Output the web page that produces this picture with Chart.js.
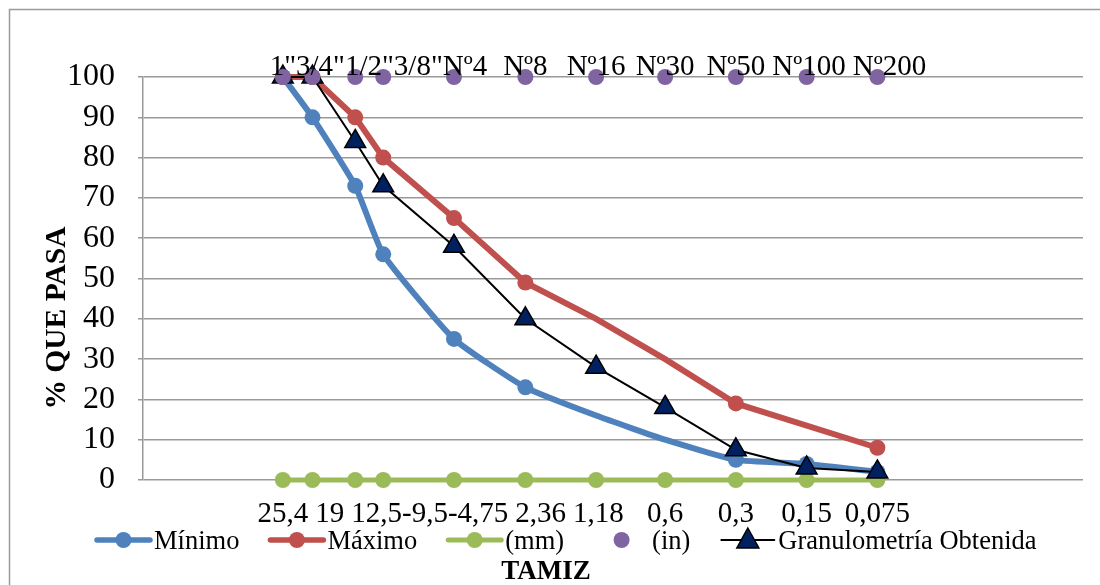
<!DOCTYPE html>
<html>
<head>
<meta charset="utf-8">
<script src="https://cdn.jsdelivr.net/npm/chart.js@4.4.0/dist/chart.umd.min.js"></script>
<style>
html,body{margin:0;padding:0;background:#fff;}
#wrap{position:relative;width:1100px;height:585px;}
</style>
</head>
<body>
<div id="wrap"><canvas id="c" width="1100" height="585"></canvas></div>
<script>
// ---- data ----
const sieveMM   = [25.4, 19, 12.5, 9.5, 4.75, 2.36, 1.18, 0.6, 0.3, 0.15, 0.075];
const mmLabels  = ["25,4", "19", "12,5-", "9,5-", "4,75", "2,36", "1,18", "0,6", "0,3", "0,15", "0,075"];
const inLabels  = ['1"', '3/4"', '1/2"', '3/8"', "Nº4", "Nº8", "Nº16", "Nº30", "Nº50", "Nº100", "Nº200"];
const minimo    = [100, 90, 73, 56, 35, 23, 16, 10, 5, 4, 2];
const maximo    = [100, 100, 90, 80, 65, 49, 40, 30, 19, null, 8];
const granulo   = [100, 100, 84, 73, 58, 40, 28, 18, 7.5, 3, 2];
const mmRow     = [0, 0, 0, 0, 0, 0, 0, 0, 0, 0, 0];
const inRow     = [100, 100, 100, 100, 100, 100, 100, 100, 100, 100, 100];
const minMarker = [1, 1, 1, 1, 1, 1, 0, 0, 1, 1, 1];
const maxMarker = [1, 1, 1, 1, 1, 1, 0, 0, 1, 1, 1];
const yTicks    = [0, 10, 20, 30, 40, 50, 60, 70, 80, 90, 100];
const seriesNames = ["Mínimo", "Máximo", "(mm)", "(in)", "Granulometría Obtenida"];

const C_BLUE = '#4F81BD', C_RED = '#C0504D', C_GREEN = '#9BBB59', C_PURPLE = '#8064A2', C_NAVY = '#002060';
const SERIF = '"Liberation Serif", "Times New Roman", serif';

const pts = arr => sieveMM.map((x, i) => ({x: x, y: arr[i]}));

// labels plugin, legend, titles, border
const decor = {
  id: 'decor',
  afterDatasetsDraw(chart) {
    const ctx = chart.ctx;
    const drawRow = (dsIndex, labels, baseline, gapFn) => {
      const meta = chart.getDatasetMeta(dsIndex);
      ctx.save();
      ctx.font = '29px ' + SERIF;
      ctx.fillStyle = '#000';
      ctx.textAlign = 'left';
      ctx.textBaseline = 'alphabetic';
      let prevRight = -Infinity, prevLabel = null;
      meta.data.forEach((p, i) => {
        const t = labels[i];
        const w = ctx.measureText(t).width;
        let left = p.x - w / 2;
        const gap = prevLabel === null ? 0 : gapFn(prevLabel, t);
        if (left < prevRight + gap) left = prevRight + gap;
        ctx.fillText(t, left, baseline);
        prevRight = left + w; prevLabel = t;
      });
      ctx.restore();
    };
    const yScale = chart.scales.y;
    drawRow(3, inLabels, yScale.getPixelForValue(100) - 2, (a, b) => (a.startsWith('Nº') && b.startsWith('Nº') && a !== 'Nº4') ? 7 : 0);
    drawRow(2, mmLabels, yScale.getPixelForValue(0) + 42, prev => prev.endsWith('-') ? 0 : 7);
  },
  afterDraw(chart) {
    const ctx = chart.ctx;
    ctx.save();
    // chart border (top and left visible)
    ctx.strokeStyle = '#9a9a9a';
    ctx.lineWidth = 1.5;
    ctx.beginPath();
    ctx.moveTo(9.5, 590); ctx.lineTo(9.5, 9.5); ctx.lineTo(1110, 9.5);
    ctx.stroke();

    // axis titles
    ctx.fillStyle = '#000';
    ctx.textAlign = 'center';
    ctx.textBaseline = 'middle';
    ctx.font = 'bold 27px ' + SERIF;
    ctx.fillText('TAMIZ', 546, 572);
    ctx.save();
    ctx.translate(57, 318);
    ctx.rotate(-Math.PI / 2);
    ctx.font = 'bold 29.5px ' + SERIF;
    ctx.fillText('% QUE PASA', 0, 0);
    ctx.restore();

    // legend
    const items = [
      {label: seriesNames[0], color: C_BLUE, line: 5.5, marker: 'circle'},
      {label: seriesNames[1], color: C_RED, line: 5.5, marker: 'circle'},
      {label: seriesNames[2], color: C_GREEN, line: 5, marker: 'circle'},
      {label: seriesNames[3], color: C_PURPLE, line: 0, marker: 'circle'},
      {label: seriesNames[4], color: '#000', line: 2, marker: 'triangle'}
    ];
    ctx.font = '26.5px ' + SERIF;
    ctx.textAlign = 'left';
    ctx.textBaseline = 'alphabetic';
    let x = 95;
    const cy = 540, base = 549;
    items.forEach(it => {
      const iw = 57;
      if (it.line) {
        ctx.strokeStyle = it.color;
        ctx.lineWidth = it.line;
        ctx.lineCap = 'round';
        ctx.beginPath(); ctx.moveTo(x + 2, cy); ctx.lineTo(x + iw - 2, cy); ctx.stroke();
      }
      const mx = x + iw / 2;
      if (it.marker === 'circle') {
        ctx.fillStyle = it.color;
        ctx.beginPath(); ctx.arc(mx, cy, 8, 0, Math.PI * 2); ctx.fill();
      } else {
        ctx.fillStyle = C_NAVY;
        ctx.strokeStyle = '#000';
        ctx.lineWidth = 1.5;
        ctx.beginPath();
        ctx.moveTo(mx, cy - 12); ctx.lineTo(mx + 11, cy + 8); ctx.lineTo(mx - 11, cy + 8); ctx.closePath();
        ctx.fill(); ctx.stroke();
      }
      ctx.fillStyle = '#000';
      ctx.fillText(it.label, x + iw + 2, base);
      x += iw + 2 + ctx.measureText(it.label).width + 29;
    });
    ctx.restore();
  }
};

new Chart(document.getElementById('c'), {
  type: 'line',
  data: {
    datasets: [
      {label: seriesNames[3], data: pts(inRow), showLine: false, pointRadius: 8, pointHoverRadius: 8,
       backgroundColor: C_PURPLE, borderColor: C_PURPLE, pointBorderWidth: 0, clip: false, order: 0},
      {label: seriesNames[4], data: pts(granulo), borderColor: '#000', borderWidth: 2,
       pointStyle: 'triangle', pointRadius: 12, pointBackgroundColor: C_NAVY, pointBorderColor: '#000',
       pointBorderWidth: 1.5, clip: false, order: 1},
      {label: seriesNames[2], data: pts(mmRow), borderColor: C_GREEN, backgroundColor: C_GREEN, borderWidth: 5,
       pointRadius: 8, pointBorderWidth: 0, clip: false, order: 2},
      {label: seriesNames[1], data: pts(maximo), borderColor: C_RED, backgroundColor: C_RED, borderWidth: 6,
       pointRadius: maxMarker.map(m => m ? 8 : 0), pointBorderWidth: 0, spanGaps: true, clip: false, order: 3},
      {label: seriesNames[0], data: pts(minimo), borderColor: C_BLUE, backgroundColor: C_BLUE, borderWidth: 6,
       pointRadius: minMarker.map(m => m ? 8 : 0), pointBorderWidth: 0, tension: 0.15, clip: false, order: 4}
    ]
  },
  options: {
    responsive: false,
    animation: false,
    events: [],
    layout: {padding: {left: 0, top: 77, right: 17, bottom: 105}},
    plugins: {legend: {display: false}, tooltip: {enabled: false}},
    scales: {
      x: {type: 'logarithmic', min: 0.01, max: 100, reverse: true, display: false},
      y: {
        min: 0, max: 100,
        afterFit: s => { s.width = 143; },
        afterBuildTicks: s => { s.ticks = yTicks.map(v => ({value: v})); },
        ticks: {font: {family: SERIF, size: 32}, color: '#000', padding: 23, autoSkip: false},
        grid: {color: '#999999', lineWidth: 1.5, tickLength: 5, drawTicks: true},
        border: {color: '#999999', width: 1.5}
      }
    }
  },
  plugins: [decor]
});
</script>
</body>
</html>
